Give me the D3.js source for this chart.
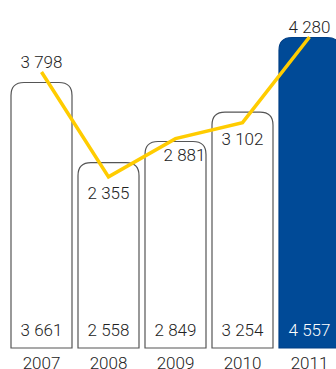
<!DOCTYPE html>
<html><head><meta charset="utf-8">
<script src="https://cdn.jsdelivr.net/npm/d3@7"></script>
<style>
html,body{margin:0;padding:0;background:#fff;overflow:hidden;}
svg{display:block;}
text{font-family:Roboto,"Noto Sans",sans-serif;font-size:17px;font-weight:300;fill:#222;}
</style></head>
<body><svg id="c" width="336" height="369"></svg>
<script>
const years = ["2007","2008","2009","2010","2011"];
const barValues = [3661, 2558, 2849, 3254, 4557];
const lineValues = [3798, 2355, 2881, 3102, 4280];
const barLabels = ["3 661","2 558","2 849","3 254","4 557"];
const lineLabels = ["3 798","2 355","2 881","3 102","4 280"];
const highlight = "2011";

const W = 336, H = 369, baseY = 348, topY = 37;
const svg = d3.select("#c");
const x = d3.scaleBand().domain(years).range([10.5, 340.5]).paddingInner(5/67).paddingOuter(0);
const y = d3.scaleLinear().domain([0, d3.max(lineValues)]).range([baseY, topY]).clamp(true);
const r = 13;

function roundTop(x0, y0, w, yb){
  return `M${x0},${yb}V${y0+r}Q${x0},${y0} ${x0+r},${y0}H${x0+w-r}Q${x0+w},${y0} ${x0+w},${y0+r}V${yb}Z`;
}

const data = years.map((yr,i)=>({yr, b:barValues[i], l:lineValues[i], bl:barLabels[i], ll:lineLabels[i]}));

svg.selectAll("path.bar").data(data).enter().append("path")
  .attr("class","bar")
  .attr("d", d=>roundTop(x(d.yr)+0.5, y(d.b)+0.5, x.bandwidth()-1, baseY))
  .attr("fill", d=>d.yr===highlight?"#004a97":"#fff")
  .attr("stroke", d=>d.yr===highlight?"#003f85":"#555")
  .attr("stroke-width",1.2);

const cx = d=>x(d.yr)+x.bandwidth()/2;

svg.append("path").datum(data)
  .attr("fill","none").attr("stroke","#ffcc00").attr("stroke-width",3.5)
  .attr("stroke-linejoin","miter")
  .attr("d", d3.line().x(cx).y(d=>y(d.l)));

// label placement relative to the line point (style)
const labelAbove = [true,false,false,false,true];
const labelDx = [0,0,9,0,0];
svg.selectAll("text.ll").data(data).enter().append("text")
  .attr("class","ll").attr("text-anchor","middle")
  .attr("x",(d,i)=>cx(d)+labelDx[i])
  .attr("y",(d,i)=> labelAbove[i] ? y(d.l)-4 : y(d.l)+22)
  .text(d=>d.ll);

svg.selectAll("text.bl").data(data).enter().append("text")
  .attr("class","bl").attr("text-anchor","middle")
  .attr("x",cx).attr("y",baseY-12)
  .style("fill",d=>d.yr===highlight?"#fff":"#222")
  .text(d=>d.bl);

svg.selectAll("text.yr").data(data).enter().append("text")
  .attr("class","yr").attr("text-anchor","middle")
  .attr("x",cx).attr("y",baseY+21)
  .text(d=>d.yr);
</script></body></html>
